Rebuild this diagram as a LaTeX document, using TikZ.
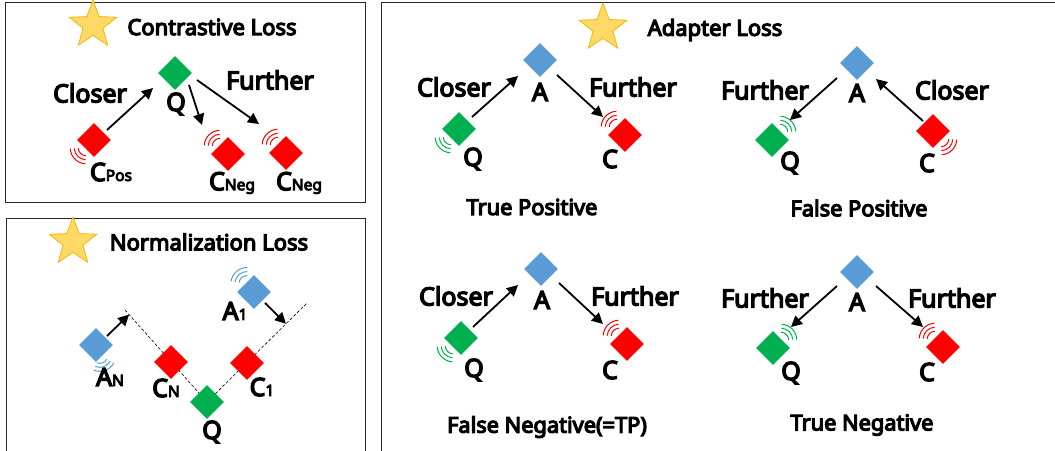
\documentclass[tikz,border=0pt]{standalone}
\usepackage{fontspec}
\setmainfont{Noto Sans}[AutoFakeBold=5.5]
\usetikzlibrary{shapes.geometric,arrows.meta,calc}
\definecolor{qgreen}{HTML}{00B050}
\definecolor{cred}{HTML}{FF0000}
\definecolor{ablue}{HTML}{5B9BD5}
\definecolor{starfill}{HTML}{FFD966}
\definecolor{starline}{HTML}{F2B705}
% three concentric arcs radiating from a node: colour, node, direction
\newcommand\wavesat[3]{%
  \foreach \r in {8,12,16}
    \draw[wv,#1] ($(#2)+(#3:11pt)$) ++(#3-42:\r pt) arc[start angle=#3-42,delta angle=84,radius=\r pt];}
\tikzset{
  panel/.style={draw=black!85,line width=1pt},
  dia/.style={diamond,minimum width=34pt,minimum height=34pt,inner sep=0pt,draw=none},
  qd/.style={dia,fill=qgreen},
  cd/.style={dia,fill=cred},
  ad/.style={dia,fill=ablue},
  wv/.style={line width=1pt},
  arr/.style={-{Triangle[length=11pt,width=11pt]},line width=1.8pt},
  ttl/.style={font=\fontsize{22}{22}\selectfont\bfseries,inner sep=0pt},
  wordlbl/.style={font=\fontsize{25}{25}\selectfont\bfseries,inner sep=0pt},
  ltr/.style={font=\fontsize{25}{25}\selectfont\bfseries,inner sep=0pt},
  caplbl/.style={font=\fontsize{21.8}{22}\selectfont\bfseries,inner sep=0pt},
  starmark/.style={star,star points=5,star point ratio=2.4,minimum size=50pt,inner sep=0pt,fill=starfill,draw=starline,line width=0.8pt},
}
\newcommand\sub[1]{{\fontsize{15.5}{15.5}\selectfont #1}}
\begin{document}
\begin{tikzpicture}[x=1pt,y=1pt]
\useasboundingbox (0,0) rectangle (1055,450);
\clip (0,0) rectangle (1055,450);

% ---------- panels ----------
\draw[panel] (5,447) rectangle (365,247);
\draw[panel] (6,231) rectangle (365,-5);
\draw[panel] (381,447) rectangle (1060,-5);

% ---------- contrastive loss ----------
\node[starmark] (s1) at (93,425) {};
\node[ttl] (t1) at (212,423) {Contrastive Loss};
\wavesat{cred}{94,310}{225}
\wavesat{cred}{228,296}{135}
\wavesat{cred}{286,297}{135}
\node[qd] (q1) at (175,377) {};
\node[cd] (cp) at (94,310) {};
\node[cd] (cn1) at (228,296) {};
\node[cd] (cn2) at (286,297) {};
\node[ltr] (q1l) at (176,346) {Q};
\node[ltr] (cpl) at (111,278) {C\sub{Pos}};
\node[ltr] (cn1l) at (232,267) {C\sub{Neg}};
\node[ltr] (cn2l) at (299,267) {C\sub{Neg}};
\node[wordlbl] (w1) at (90,357) {Closer};
\node[wordlbl] (w2) at (270,370) {Further};
\draw[arr] ($(cp)+(13,10)$) -- ($(q1)+(-22,-15)$);
\draw[arr] ($(q1)+(14,-12)$) -- ($(cn1)+(-26,29)$);
\draw[arr] ($(q1)+(22,-7)$) -- ($(cn2)+(-27,29)$);

% ---------- normalization loss ----------
\node[starmark] (s2) at (73,208) {};
\node[ttl] (t2) at (209,208) {Normalization Loss};
\coordinate (nl) at (125,140);
\coordinate (nr) at (307,147);
\coordinate (q2) at (207,48);
\draw[densely dashed,line width=0.6pt] (nl) -- (q2) -- (nr);
\wavesat{ablue}{254,158}{130}
\wavesat{ablue}{96,105}{290}
\node[qd] (q2b) at (q2) {};
\node[ad] (a1) at (254,158) {};
\node[ad] (an) at (96,105) {};
\node[cd] (cnn) at (171,88) {};
\node[cd] (c1) at (247,87) {};
\node[ltr] (a1l) at (235,139) {A\sub{1}};
\node[ltr] (anl) at (110,73) {A\sub{N}};
\node[ltr] (cnnl) at (166,62) {C\sub{N}};
\node[ltr] (c1l) at (262,63) {C\sub{1}};
\node[ltr] (q2l) at (212,18) {Q};
\draw[arr] ($(a1)+(11,-11)$) -- ($(q2)!0.79!(nr)$);
\draw[arr] ($(an)+(11,9)$) -- ($(nl)!0.05!(q2)$);

% ---------- adapter loss ----------
\node[starmark] (s3) at (603,422) {};
\node[ttl] (t3) at (715,420) {Adapter Loss};

% true positive
\wavesat{qgreen}{459,321}{225}
\wavesat{cred}{625,315}{135}
\node[ad] (tpa) at (540,390) {};
\node[qd] (tpq) at (459,321) {};
\node[cd] (tpc) at (625,315) {};
\node[ltr] (tpal) at (540,358) {A};
\node[ltr] (tpql) at (473,291) {Q};
\node[ltr] (tpcl) at (610,291) {C};
\node[wordlbl] (tpw1) at (454,363) {Closer};
\node[wordlbl] (tpw2) at (633,363) {Further};
\node[caplbl] (tpcap) at (532,243) {True Positive};
\draw[arr] ($(tpq)+(13,12)$) -- ($(tpa)+(-22,-16)$);
\draw[arr] ($(tpa)+(17,-15)$) -- ($(tpc)+(-22,18)$);

% false positive
\wavesat{qgreen}{772,310}{45}
\wavesat{cred}{933,319}{315}
\node[ad] (fpa) at (857,387) {};
\node[qd] (fpq) at (772,310) {};
\node[cd] (fpc) at (933,319) {};
\node[ltr] (fpal) at (857,357) {A};
\node[ltr] (fpql) at (790,287) {Q};
\node[ltr] (fpcl) at (927,287) {C};
\node[wordlbl] (fpw1) at (765,360) {Further};
\node[wordlbl] (fpw2) at (952,360) {Closer};
\node[caplbl] (fpcap) at (859,242) {False Positive};
\draw[arr] ($(fpa)+(-20,-15)$) -- ($(fpq)+(18,20)$);
\draw[arr] ($(fpc)+(-10,10)$) -- ($(fpa)+(19,-16)$);

% false negative
\wavesat{qgreen}{461,112}{225}
\wavesat{cred}{627,106}{135}
\node[ad] (fna) at (541,181) {};
\node[qd] (fnq) at (461,112) {};
\node[cd] (fnc) at (627,106) {};
\node[ltr] (fnal) at (542,150) {A};
\node[ltr] (fnql) at (474,80) {Q};
\node[ltr] (fncl) at (610,80) {C};
\node[wordlbl] (fnw1) at (456,154) {Closer};
\node[wordlbl] (fnw2) at (635,154) {Further};
\node[caplbl] (fncap) at (547,23) {False Negative(=TP)};
\draw[arr] ($(fnq)+(12,11)$) -- ($(fna)+(-23,-16)$);
\draw[arr] ($(fna)+(18,-14)$) -- ($(fnc)+(-24,20)$);

% true negative
\wavesat{qgreen}{773,102}{45}
\wavesat{cred}{943,103}{135}
\node[ad] (tna) at (857,178) {};
\node[qd] (tnq) at (773,102) {};
\node[cd] (tnc) at (943,103) {};
\node[ltr] (tnal) at (857,148) {A};
\node[ltr] (tnql) at (791,77) {Q};
\node[ltr] (tncl) at (927,78) {C};
\node[wordlbl] (tnw1) at (765,152) {Further};
\node[wordlbl] (tnw2) at (952,152) {Further};
\node[caplbl] (tncap) at (862,25) {True Negative};
\draw[arr] ($(tna)+(-20,-14)$) -- ($(tnq)+(18,21)$);
\draw[arr] ($(tna)+(19,-14)$) -- ($(tnc)+(-20,20)$);
\end{tikzpicture}
\end{document}
